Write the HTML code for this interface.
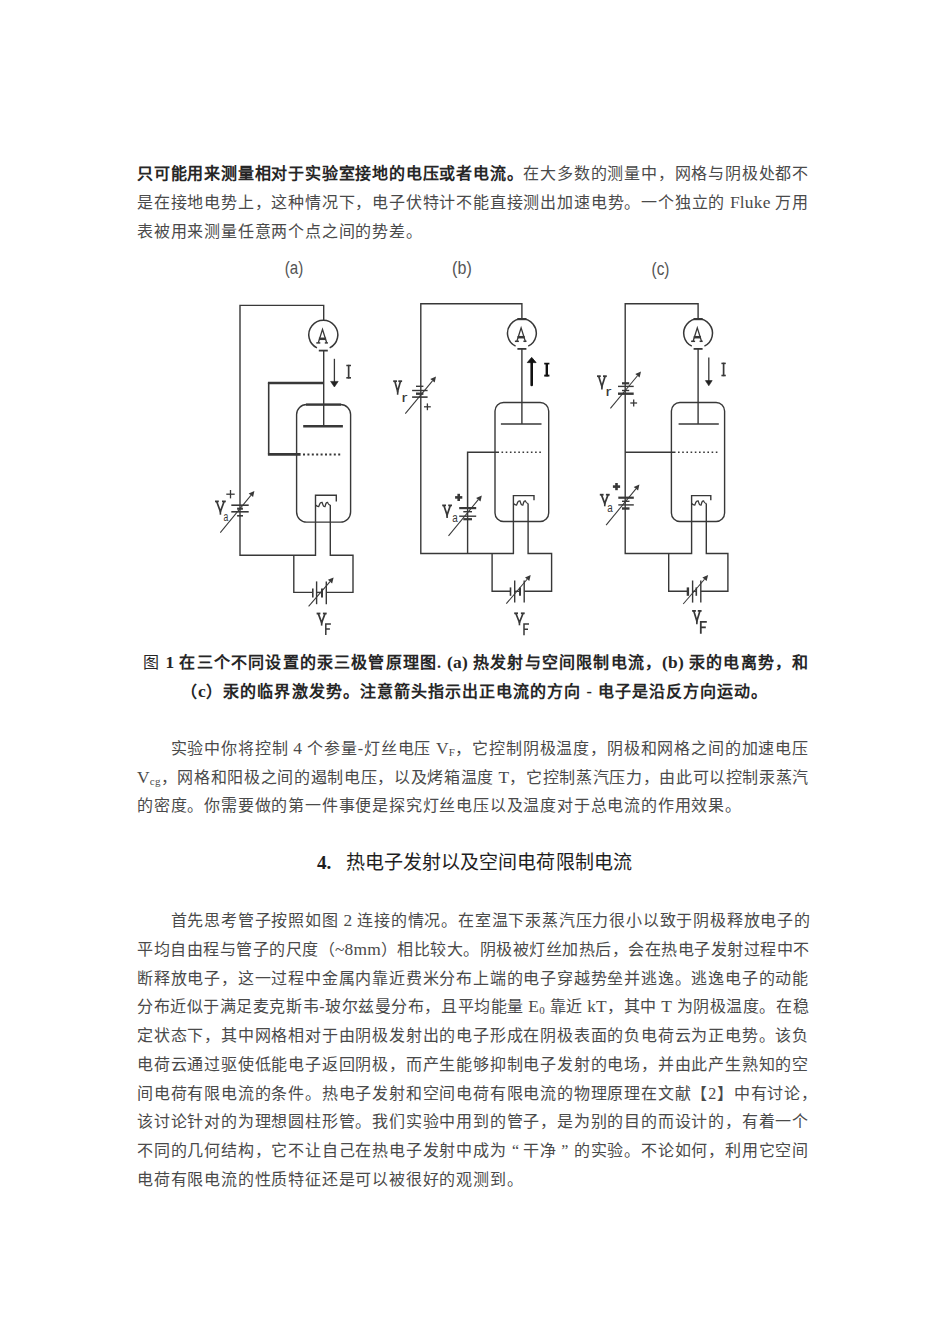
<!DOCTYPE html>
<html lang="zh-CN"><head><meta charset="utf-8"><title>doc</title>
<style>
html,body{margin:0;padding:0;background:#fff;}
body{width:950px;height:1344px;position:relative;overflow:hidden;font-family:"Liberation Serif",serif;color:#4a4a4a;}
.l{position:absolute;font-size:16px;letter-spacing:0.8px;line-height:20px;white-space:nowrap;}
.j{text-align:justify;text-align-last:justify;}
.b{font-weight:bold;color:#262626;}
b{color:#262626;}
.n{font-weight:normal;}
.sb{font-size:11px;vertical-align:-2px;line-height:0;letter-spacing:0.3px;}
.q1{display:inline-block;width:12.5px;padding-right:4.3px;text-align:right;text-align-last:right;letter-spacing:0;text-indent:0;}
.q2{display:inline-block;width:12.5px;padding-left:4.3px;text-align:left;text-align-last:left;letter-spacing:0;text-indent:0;}
.e{font-size:17.4px;letter-spacing:0.2px;line-height:0;}
svg{position:absolute;left:0;top:0;}
</style></head><body>
<div class="l j" style="top:164.4px;left:137px;width:672px;"><b>只可能用来测量相对于实验室接地的电压或者电流。</b>在大多数的测量中，网格与阴极处都不</div>
<div class="l j" style="top:192.9px;left:137px;width:672px;">是在接地电势上，这种情况下，电子伏特计不能直接测出加速电势。一个独立的 <span class="e">Fluke</span> 万用</div>
<div class="l" style="top:221.5px;left:137px;width:672px;">表被用来测量任意两个点之间的势差。</div>
<div class="l j b" style="top:652.7px;left:143px;width:666px;"><span class="n">图</span> <span class="e">1</span> 在三个不同设置的汞三极管原理图. <span class="e">(a)</span> 热发射与空间限制电流，<span class="e">(b)</span> 汞的电离势，和</div>
<div class="l j b" style="top:681.5px;left:181px;width:587px;">（<span class="e">c</span>）汞的临界激发势。注意箭头指示出正电流的方向 - 电子是沿反方向运动。</div>
<div class="l j" style="top:738.9px;left:137px;width:672px;text-indent:33.6px;">实验中你将控制 <span class="e">4</span> 个参量-灯丝电压 <span class="e">V</span><span class="sb">F</span>，它控制阴极温度，阴极和网格之间的加速电压</div>
<div class="l j" style="top:767.5px;left:137px;width:672px;letter-spacing:0.55px;"><span class="e">V</span><span class="sb">cg</span>，网格和阳极之间的遏制电压，以及烤箱温度 <span class="e">T</span>，它控制蒸汽压力，由此可以控制汞蒸汽</div>
<div class="l" style="top:796.2px;left:137px;width:672px;">的密度。你需要做的第一件事便是探究灯丝电压以及温度对于总电流的作用效果。</div>
<div class="l" style="top:853.2px;left:317px;width:23px;font-size:19.1px;letter-spacing:0;font-weight:bold;color:#1e1e1e;">4.</div>
<div class="l" style="top:853.2px;left:345.5px;width:286.5px;font-size:19px;letter-spacing:0;letter-spacing:0.1px;color:#1e1e1e;">热电子发射以及空间电荷限制电流</div>
<div class="l j" style="top:911.3px;left:137px;width:672px;text-indent:33.6px;">首先思考管子按照如图 <span class="e">2</span> 连接的情况。在室温下汞蒸汽压力很小以致于阴极释放电子的</div>
<div class="l j" style="top:940.0px;left:137px;width:672px;letter-spacing:0.5px;">平均自由程与管子的尺度（<span class="e">~8mm</span>）相比较大。阴极被灯丝加热后，会在热电子发射过程中不</div>
<div class="l j" style="top:968.7px;left:137px;width:672px;">断释放电子，这一过程中金属内靠近费米分布上端的电子穿越势垒并逃逸。逃逸电子的动能</div>
<div class="l j" style="top:997.4px;left:137px;width:672px;letter-spacing:0.5px;">分布近似于满足麦克斯韦-玻尔兹曼分布，且平均能量 <span class="e">E</span><span class="sb">0</span> 靠近 <span class="e">kT</span>，其中 <span class="e">T</span> 为阴极温度。在稳</div>
<div class="l j" style="top:1026.1px;left:137px;width:672px;">定状态下，其中网格相对于由阴极发射出的电子形成在阴极表面的负电荷云为正电势。该负</div>
<div class="l j" style="top:1054.8px;left:137px;width:672px;">电荷云通过驱使低能电子返回阴极，而产生能够抑制电子发射的电场，并由此产生熟知的空</div>
<div class="l j" style="top:1083.5px;left:137px;width:672px;">间电荷有限电流的条件。热电子发射和空间电荷有限电流的物理原理在文献【2】中有讨论，</div>
<div class="l j" style="top:1112.2px;left:137px;width:672px;">该讨论针对的为理想圆柱形管。我们实验中用到的管子，是为别的目的而设计的，有着一个</div>
<div class="l j" style="top:1140.9px;left:137px;width:672px;">不同的几何结构，它不让自己在热电子发射中成为<span class="q1">“</span>干净<span class="q2">”</span>的实验。不论如何，利用它空间</div>
<div class="l" style="top:1169.6px;left:137px;width:672px;">电荷有限电流的性质特征还是可以被很好的观测到。</div>
<svg width="950" height="700" viewBox="0 0 950 700" stroke-linecap="butt"><text x="293.95" y="274.19354838709677" font-family="Liberation Sans" font-size="19.032258064516117" fill="#555" text-anchor="middle" textLength="18.5" lengthAdjust="spacingAndGlyphs">(a)</text><path d="M240,505.2 V305.4 H323.7 V320.3" stroke="#383838" stroke-width="1.4" fill="none" /><path d="M240,515.8 V555.3 H315.5 V495.3 H336.3 V501.6" stroke="#383838" stroke-width="1.4" fill="none" /><path d="M329.66,347.83 A14.5,14.5 0 1 0 316.94,347.83" stroke="#383838" stroke-width="1.5" fill="none"/><path d="M318.3,342.8 L322.5,329.4 L326.7,342.8" stroke="#383838" stroke-width="1.3" fill="none" /><line x1="318.9" y1="338.8" x2="326.1" y2="338.8" stroke="#383838" stroke-width="2.5"/><line x1="316.3" y1="342.90000000000003" x2="320.3" y2="342.90000000000003" stroke="#383838" stroke-width="1.5"/><line x1="324.8" y1="342.90000000000003" x2="327.9" y2="342.90000000000003" stroke="#383838" stroke-width="1.5"/><line x1="318.8" y1="350.6" x2="327.8" y2="350.6" stroke="#383838" stroke-width="1.8"/><line x1="323.7" y1="350" x2="323.7" y2="426.3" stroke="#383838" stroke-width="1.4"/><line x1="303.2" y1="426.3" x2="342.9" y2="426.3" stroke="#383838" stroke-width="2.6"/><line x1="323.7" y1="383" x2="267.9" y2="383" stroke="#383838" stroke-width="2.6"/><line x1="268.7" y1="383" x2="268.7" y2="454.4" stroke="#383838" stroke-width="1.6"/><line x1="267.9" y1="454.4" x2="300.6" y2="454.4" stroke="#383838" stroke-width="2.6"/><line x1="303" y1="454.4" x2="342.5" y2="454.4" stroke="#383838" stroke-width="2.0" stroke-dasharray="2,2.4"/><rect x="296.6" y="404.5" width="54.0" height="117.6" rx="10" ry="10" stroke="#383838" stroke-width="1.4" fill="none"/><line x1="306" y1="404.6" x2="341" y2="404.6" stroke="#383838" stroke-width="2.4"/><path d="M315.5,505 C316.94,506.60 317.26,506.60 318.70,506.60 C320.23,502.40 320.57,502.40 322.10,502.40 C323.41,506.60 323.69,506.60 325.00,506.60 C326.17,502.40 326.43,502.40 327.60,502.40 C328.81,505.00 329.09,505.00 330.30,505.00" stroke="#383838" stroke-width="1.3" fill="none" /><path d="M330.3,505 V555.3 H353 V592.4 H326.3" stroke="#383838" stroke-width="1.4" fill="none" /><path d="M293.8,555.3 V592.4 H312.8" stroke="#383838" stroke-width="1.4" fill="none" /><line x1="316.6" y1="592.4" x2="322" y2="592.4" stroke="#383838" stroke-width="1.4"/><line x1="312.8" y1="588.6" x2="312.8" y2="597.4" stroke="#383838" stroke-width="1.6"/><line x1="316.6" y1="581.4" x2="316.6" y2="604.2" stroke="#383838" stroke-width="1.4"/><line x1="322" y1="588.6" x2="322" y2="597.4" stroke="#383838" stroke-width="2.0"/><line x1="326.3" y1="581.4" x2="326.3" y2="604.2" stroke="#383838" stroke-width="1.4"/><line x1="308.6" y1="606.3" x2="330.0017193033486" y2="581.559612485329" stroke="#383838" stroke-width="1.05"/><path d="M333.6,577.4 L332.1,583.4 L327.9,579.7 Z" fill="#383838"/><path d="M318.20000000000005,613.4 L321.65,622.7 L325.09999999999997,613.4" stroke="#383838" stroke-width="1.7" fill="none" /><line x1="321.65" y1="622.24" x2="321.65" y2="625.6" stroke="#383838" stroke-width="1.6"/><line x1="316.6" y1="613.5" x2="320.40000000000003" y2="613.5" stroke="#383838" stroke-width="1.8"/><line x1="322.9" y1="613.5" x2="326.7" y2="613.5" stroke="#383838" stroke-width="1.8"/><path d="M325.8,634.9 V623.9 H330.9" stroke="#383838" stroke-width="1.5" fill="none" /><line x1="325.8" y1="629.0" x2="329.9" y2="629.0" stroke="#383838" stroke-width="1.5"/><line x1="231.3" y1="505.2" x2="248.7" y2="505.2" stroke="#383838" stroke-width="1.6"/><line x1="237.1" y1="508.7" x2="242.9" y2="508.7" stroke="#383838" stroke-width="2.1"/><line x1="231.3" y1="511.8" x2="248.7" y2="511.8" stroke="#383838" stroke-width="1.6"/><line x1="237.1" y1="515.8" x2="243" y2="515.8" stroke="#383838" stroke-width="1.6"/><line x1="240" y1="505.2" x2="240" y2="515.8" stroke="#383838" stroke-width="1.4"/><line x1="226.3" y1="494.2" x2="234.7" y2="494.2" stroke="#383838" stroke-width="1.3"/><line x1="230.5" y1="490.0" x2="230.5" y2="498.4" stroke="#383838" stroke-width="1.3"/><path d="M216.6,501.3 L220.4,511.6 L224.20000000000002,501.3" stroke="#383838" stroke-width="1.7" fill="none" /><line x1="220.4" y1="511.076" x2="220.4" y2="514.7" stroke="#383838" stroke-width="1.6"/><line x1="215" y1="501.4" x2="218.8" y2="501.4" stroke="#383838" stroke-width="1.8"/><line x1="222.0" y1="501.4" x2="225.8" y2="501.4" stroke="#383838" stroke-width="1.8"/><text x="225.8" y="520.5" font-family="Liberation Sans" font-size="12.5" font-weight="normal" fill="#383838" text-anchor="middle" textLength="4.8" lengthAdjust="spacingAndGlyphs">a</text><line x1="220.3" y1="532.6" x2="250.90827812471903" y2="495.34945624117773" stroke="#383838" stroke-width="1.05"/><path d="M254.4,491.1 L253.1,497.1 L248.7,493.6 Z" fill="#383838"/><line x1="334.4" y1="358.8" x2="334.4" y2="382" stroke="#383838" stroke-width="1.3"/><path d="M330.6,381.4 L338.2,381.4 L334.4,387.0 Z" fill="#222" stroke="#222" stroke-width="0.6" stroke-linejoin="round"/><line x1="348.65" y1="364.8" x2="348.65" y2="378.5" stroke="#383838" stroke-width="1.7"/><line x1="346.3" y1="365.5" x2="351" y2="365.5" stroke="#383838" stroke-width="1.5"/><line x1="346.3" y1="377.8" x2="351" y2="377.8" stroke="#383838" stroke-width="1.6"/><text x="461.95000000000005" y="274.0440860215054" font-family="Liberation Sans" font-size="18.279569892473116" fill="#555" text-anchor="middle" textLength="19.69999999999999" lengthAdjust="spacingAndGlyphs">(b)</text><path d="M420.8,386.3 V303.7 H521.9 V318.5" stroke="#383838" stroke-width="1.4" fill="none" /><path d="M420.8,397.1 V553.5 H513.4 V495.6 H534 V500.2" stroke="#383838" stroke-width="1.4" fill="none" /><path d="M528.21,346.14 A14.4,14.4 0 1 0 515.59,346.14" stroke="#383838" stroke-width="1.5" fill="none"/><path d="M516.9,341.2 L521.1,327.8 L525.3,341.2" stroke="#383838" stroke-width="1.3" fill="none" /><line x1="517.5" y1="337.2" x2="524.7" y2="337.2" stroke="#383838" stroke-width="2.5"/><line x1="514.9" y1="341.3" x2="518.9" y2="341.3" stroke="#383838" stroke-width="1.5"/><line x1="523.4" y1="341.3" x2="526.5" y2="341.3" stroke="#383838" stroke-width="1.5"/><line x1="517.4" y1="319.1" x2="526.4" y2="319.1" stroke="#383838" stroke-width="2.2"/><line x1="517.4" y1="348.9" x2="526.4" y2="348.9" stroke="#383838" stroke-width="1.8"/><line x1="521.9" y1="348" x2="521.9" y2="424" stroke="#383838" stroke-width="1.4"/><line x1="500.9" y1="424" x2="541.5" y2="424" stroke="#383838" stroke-width="1.4"/><rect x="495" y="402.5" width="53.7" height="119" rx="8.5" ry="8.5" stroke="#383838" stroke-width="1.4" fill="none"/><path d="M499,452.3 H467.6 V508.1" stroke="#383838" stroke-width="1.5" fill="none" /><line x1="467.6" y1="519.2" x2="467.6" y2="553.5" stroke="#383838" stroke-width="1.4"/><line x1="501.5" y1="452.3" x2="541.5" y2="452.3" stroke="#383838" stroke-width="1.4" stroke-dasharray="1.6,2.6"/><line x1="459.2" y1="508.1" x2="476.2" y2="508.1" stroke="#383838" stroke-width="2.2"/><line x1="463.3" y1="511.7" x2="472" y2="511.7" stroke="#383838" stroke-width="1.4"/><line x1="459.2" y1="516.2" x2="476.2" y2="516.2" stroke="#383838" stroke-width="1.4"/><line x1="463.3" y1="519.2" x2="472" y2="519.2" stroke="#383838" stroke-width="2.2"/><line x1="467.6" y1="508.1" x2="467.6" y2="519.2" stroke="#383838" stroke-width="1.4"/><line x1="455.09999999999997" y1="497.4" x2="462.3" y2="497.4" stroke="#383838" stroke-width="2.6"/><line x1="458.7" y1="493.79999999999995" x2="458.7" y2="501.0" stroke="#383838" stroke-width="2.6"/><path d="M443.8,505.3 L447.1,515.0 L450.4,505.3" stroke="#383838" stroke-width="1.7" fill="none" /><line x1="447.1" y1="514.53" x2="447.1" y2="518" stroke="#383838" stroke-width="1.6"/><line x1="442.2" y1="505.4" x2="446.0" y2="505.4" stroke="#383838" stroke-width="1.8"/><line x1="448.2" y1="505.4" x2="452" y2="505.4" stroke="#383838" stroke-width="1.8"/><text x="455" y="522" font-family="Liberation Sans" font-size="12.5" font-weight="normal" fill="#383838" text-anchor="middle" textLength="5.5" lengthAdjust="spacingAndGlyphs">a</text><line x1="448.5" y1="535.8" x2="478.30176932097703" y2="499.6440996826585" stroke="#383838" stroke-width="1.05"/><path d="M481.8,495.4 L480.5,501.4 L476.1,497.9 Z" fill="#383838"/><line x1="416" y1="386.3" x2="423.4" y2="386.3" stroke="#383838" stroke-width="1.4"/><line x1="412.1" y1="390.5" x2="427.6" y2="390.5" stroke="#383838" stroke-width="1.4"/><line x1="416" y1="393.7" x2="423.4" y2="393.7" stroke="#383838" stroke-width="2.4"/><line x1="412.1" y1="397.1" x2="427.6" y2="397.1" stroke="#383838" stroke-width="1.6"/><line x1="420.8" y1="386.3" x2="420.8" y2="397.1" stroke="#383838" stroke-width="1.4"/><line x1="424.0" y1="406.8" x2="430.79999999999995" y2="406.8" stroke="#383838" stroke-width="1.3"/><line x1="427.4" y1="403.40000000000003" x2="427.4" y2="410.2" stroke="#383838" stroke-width="1.3"/><path d="M394.8,381.1 L397.65,391.5 L400.5,381.1" stroke="#383838" stroke-width="1.7" fill="none" /><line x1="397.65" y1="391.032" x2="397.65" y2="394.7" stroke="#383838" stroke-width="1.6"/><line x1="393.2" y1="381.2" x2="397.0" y2="381.2" stroke="#383838" stroke-width="1.8"/><line x1="398.3" y1="381.2" x2="402.1" y2="381.2" stroke="#383838" stroke-width="1.8"/><text x="404.5" y="401.6" font-family="Liberation Sans" font-size="12.5" font-weight="normal" fill="#383838" text-anchor="middle" textLength="6" lengthAdjust="spacingAndGlyphs">r</text><line x1="405.3" y1="413.7" x2="432.49361132718275" y2="380.8373622072156" stroke="#383838" stroke-width="1.05"/><path d="M436.0,376.6 L434.7,382.6 L430.3,379.1 Z" fill="#383838"/><path d="M513.4,503.5 C514.83,505.10 515.15,505.10 516.58,505.10 C518.10,500.90 518.44,500.90 519.96,500.90 C521.25,505.10 521.54,505.10 522.84,505.10 C524.00,500.90 524.26,500.90 525.42,500.90 C526.63,503.50 526.89,503.50 528.10,503.50" stroke="#383838" stroke-width="1.3" fill="none" /><path d="M528.1,503.5 V553.5 H551.6 V591.3 H524.2" stroke="#383838" stroke-width="1.4" fill="none" /><path d="M492.1,553.5 V591.3 H510.5" stroke="#383838" stroke-width="1.4" fill="none" /><line x1="514.7" y1="591.3" x2="520" y2="591.3" stroke="#383838" stroke-width="1.4"/><line x1="510.5" y1="587.4" x2="510.5" y2="595.8" stroke="#383838" stroke-width="1.6"/><line x1="514.7" y1="580.5" x2="514.7" y2="602.6" stroke="#383838" stroke-width="1.4"/><line x1="520" y1="587.4" x2="520" y2="595.8" stroke="#383838" stroke-width="2.0"/><line x1="524.2" y1="580.5" x2="524.2" y2="602.6" stroke="#383838" stroke-width="1.4"/><line x1="506.3" y1="603.7" x2="527.1302955267529" y2="579.2841618006095" stroke="#383838" stroke-width="1.05"/><path d="M530.7,575.1 L529.3,581.1 L525.0,577.5 Z" fill="#383838"/><path d="M515.8000000000001,613.1999999999999 L519.45,622.5 L523.1,613.1999999999999" stroke="#383838" stroke-width="1.7" fill="none" /><line x1="519.45" y1="621.962" x2="519.45" y2="625.3" stroke="#383838" stroke-width="1.6"/><line x1="514.2" y1="613.3" x2="518.0" y2="613.3" stroke="#383838" stroke-width="1.8"/><line x1="520.9000000000001" y1="613.3" x2="524.7" y2="613.3" stroke="#383838" stroke-width="1.8"/><path d="M524.0,635.3 V624.0 H529" stroke="#383838" stroke-width="1.5" fill="none" /><line x1="524.0" y1="629.25" x2="528" y2="629.25" stroke="#383838" stroke-width="1.5"/><line x1="531.7" y1="385" x2="531.7" y2="361" stroke="#111" stroke-width="2.6" stroke-linecap="round"/><path d="M527.3,362.6 L536.1,362.6 L531.7,357.4 Z" fill="#111" stroke="#111" stroke-width="0.8" stroke-linejoin="round"/><line x1="546.8" y1="363" x2="546.8" y2="376.3" stroke="#111" stroke-width="2.4"/><line x1="544.2" y1="363.6" x2="549.4" y2="363.6" stroke="#111" stroke-width="1.7"/><line x1="544.2" y1="375.6" x2="549.4" y2="375.6" stroke="#111" stroke-width="1.9"/><text x="660.55" y="274.9440860215054" font-family="Liberation Sans" font-size="18.279569892473116" fill="#555" text-anchor="middle" textLength="17.899999999999977" lengthAdjust="spacingAndGlyphs">(c)</text><path d="M625.2,383.3 V303.7 H698.1 V318.5" stroke="#383838" stroke-width="1.4" fill="none" /><line x1="625.2" y1="393.7" x2="625.2" y2="497.7" stroke="#383838" stroke-width="1.4"/><path d="M625.2,508.5 V553.5 H691.6 V495.6 H710.8 V500.2" stroke="#383838" stroke-width="1.4" fill="none" /><path d="M704.41,346.14 A14.4,14.4 0 1 0 691.79,346.14" stroke="#383838" stroke-width="1.5" fill="none"/><path d="M693.1,341.2 L697.3,327.8 L701.5,341.2" stroke="#383838" stroke-width="1.3" fill="none" /><line x1="693.7" y1="337.2" x2="700.9000000000001" y2="337.2" stroke="#383838" stroke-width="2.5"/><line x1="691.1" y1="341.3" x2="695.1" y2="341.3" stroke="#383838" stroke-width="1.5"/><line x1="699.6" y1="341.3" x2="702.7" y2="341.3" stroke="#383838" stroke-width="1.5"/><line x1="693.6" y1="319.1" x2="702.6" y2="319.1" stroke="#383838" stroke-width="2.2"/><line x1="693.6" y1="348.9" x2="702.6" y2="348.9" stroke="#383838" stroke-width="1.8"/><line x1="698.1" y1="348" x2="698.1" y2="424" stroke="#383838" stroke-width="1.4"/><line x1="678.6" y1="424" x2="718.8" y2="424" stroke="#383838" stroke-width="1.4"/><rect x="671.4" y="402.5" width="53.2" height="119" rx="8.5" ry="8.5" stroke="#383838" stroke-width="1.4" fill="none"/><line x1="625.2" y1="452.3" x2="675.5" y2="452.3" stroke="#383838" stroke-width="1.5"/><line x1="678" y1="452.3" x2="718.5" y2="452.3" stroke="#383838" stroke-width="1.4" stroke-dasharray="1.6,2.6"/><line x1="622" y1="383.3" x2="629.2" y2="383.3" stroke="#383838" stroke-width="2.2"/><line x1="618" y1="386.4" x2="633.7" y2="386.4" stroke="#383838" stroke-width="1.4"/><line x1="622" y1="390.5" x2="629.2" y2="390.5" stroke="#383838" stroke-width="1.4"/><line x1="618" y1="393.7" x2="633.7" y2="393.7" stroke="#383838" stroke-width="2.4"/><line x1="625.2" y1="383.3" x2="625.2" y2="393.7" stroke="#383838" stroke-width="1.4"/><line x1="630.3000000000001" y1="403" x2="637.1" y2="403" stroke="#383838" stroke-width="1.3"/><line x1="633.7" y1="399.6" x2="633.7" y2="406.4" stroke="#383838" stroke-width="1.3"/><path d="M598.6,376.1 L601.9,386.5 L605.1999999999999,376.1" stroke="#383838" stroke-width="1.7" fill="none" /><line x1="601.9" y1="385.954" x2="601.9" y2="389.6" stroke="#383838" stroke-width="1.6"/><line x1="597" y1="376.2" x2="600.8" y2="376.2" stroke="#383838" stroke-width="1.8"/><line x1="603.0" y1="376.2" x2="606.8" y2="376.2" stroke="#383838" stroke-width="1.8"/><text x="608.5" y="396" font-family="Liberation Sans" font-size="12.5" font-weight="normal" fill="#383838" text-anchor="middle" textLength="6" lengthAdjust="spacingAndGlyphs">r</text><line x1="610.4" y1="408.4" x2="637.4891527172301" y2="375.7336687821637" stroke="#383838" stroke-width="1.05"/><path d="M641.0,371.5 L639.6,377.5 L635.3,373.9 Z" fill="#383838"/><line x1="618.3" y1="497.7" x2="633.8" y2="497.7" stroke="#383838" stroke-width="2.2"/><line x1="622" y1="501.3" x2="629.5" y2="501.3" stroke="#383838" stroke-width="1.4"/><line x1="618.3" y1="504.9" x2="633.8" y2="504.9" stroke="#383838" stroke-width="1.4"/><line x1="622" y1="508.5" x2="629.5" y2="508.5" stroke="#383838" stroke-width="2.4"/><line x1="625.2" y1="497.7" x2="625.2" y2="508.5" stroke="#383838" stroke-width="1.4"/><line x1="612.9" y1="486.6" x2="620.1" y2="486.6" stroke="#383838" stroke-width="2.6"/><line x1="616.5" y1="483.0" x2="616.5" y2="490.20000000000005" stroke="#383838" stroke-width="2.6"/><path d="M601.4,494.6 L604.75,503.6 L608.1,494.6" stroke="#383838" stroke-width="1.7" fill="none" /><line x1="604.75" y1="503.05" x2="604.75" y2="506.3" stroke="#383838" stroke-width="1.6"/><line x1="599.8" y1="494.7" x2="603.5999999999999" y2="494.7" stroke="#383838" stroke-width="1.8"/><line x1="605.9000000000001" y1="494.7" x2="609.7" y2="494.7" stroke="#383838" stroke-width="1.8"/><text x="610" y="512" font-family="Liberation Sans" font-size="12.5" font-weight="normal" fill="#383838" text-anchor="middle" textLength="5.5" lengthAdjust="spacingAndGlyphs">a</text><line x1="606.1" y1="525.1" x2="635.9069203022409" y2="488.8483401729503" stroke="#383838" stroke-width="1.05"/><path d="M639.4,484.6 L638.1,490.6 L633.7,487.1 Z" fill="#383838"/><path d="M691.6,503.5 C693.03,505.10 693.35,505.10 694.78,505.10 C696.30,500.90 696.64,500.90 698.16,500.90 C699.45,505.10 699.74,505.10 701.04,505.10 C702.20,500.90 702.46,500.90 703.62,500.90 C704.83,503.50 705.09,503.50 706.30,503.50" stroke="#383838" stroke-width="1.3" fill="none" /><path d="M706.3,503.5 V553.5 H727.9 V591.3 H700.8" stroke="#383838" stroke-width="1.4" fill="none" /><path d="M668.7,553.5 V591.3 H687.9" stroke="#383838" stroke-width="1.4" fill="none" /><line x1="692.6" y1="591.3" x2="696.3" y2="591.3" stroke="#383838" stroke-width="1.4"/><line x1="687.9" y1="587.4" x2="687.9" y2="595.8" stroke="#383838" stroke-width="2.4"/><line x1="692.6" y1="580.5" x2="692.6" y2="602.6" stroke="#383838" stroke-width="1.4"/><line x1="696.3" y1="587.4" x2="696.3" y2="595.8" stroke="#383838" stroke-width="1.6"/><line x1="700.8" y1="580.5" x2="700.8" y2="602.6" stroke="#383838" stroke-width="1.4"/><line x1="683.2" y1="604" x2="704.5099730470888" y2="579.2667381100053" stroke="#383838" stroke-width="1.05"/><path d="M708.1,575.1 L706.6,581.1 L702.4,577.4 Z" fill="#383838"/><path d="M693.7,610.8 L696.85,621.1 L700.0,610.8" stroke="#383838" stroke-width="1.7" fill="none" /><line x1="696.85" y1="620.576" x2="696.85" y2="624.2" stroke="#383838" stroke-width="1.6"/><line x1="692.1" y1="610.9" x2="695.9" y2="610.9" stroke="#383838" stroke-width="1.8"/><line x1="697.8000000000001" y1="610.9" x2="701.6" y2="610.9" stroke="#383838" stroke-width="1.8"/><path d="M700.8,633.7 V621.8 H706.8" stroke="#383838" stroke-width="1.8" fill="none" /><line x1="700.8" y1="627.35" x2="705.8" y2="627.35" stroke="#383838" stroke-width="1.8"/><line x1="708.8" y1="357.4" x2="708.8" y2="381" stroke="#383838" stroke-width="1.3"/><path d="M705.4,380.6 L712.2,380.6 L708.8,385.8 Z" fill="#222" stroke="#222" stroke-width="0.6" stroke-linejoin="round"/><line x1="723.5999999999999" y1="362.7" x2="723.5999999999999" y2="376.2" stroke="#383838" stroke-width="1.7"/><line x1="721.4" y1="363.4" x2="725.8" y2="363.4" stroke="#383838" stroke-width="1.5"/><line x1="721.4" y1="375.5" x2="725.8" y2="375.5" stroke="#383838" stroke-width="1.6"/></svg>
</body></html>
